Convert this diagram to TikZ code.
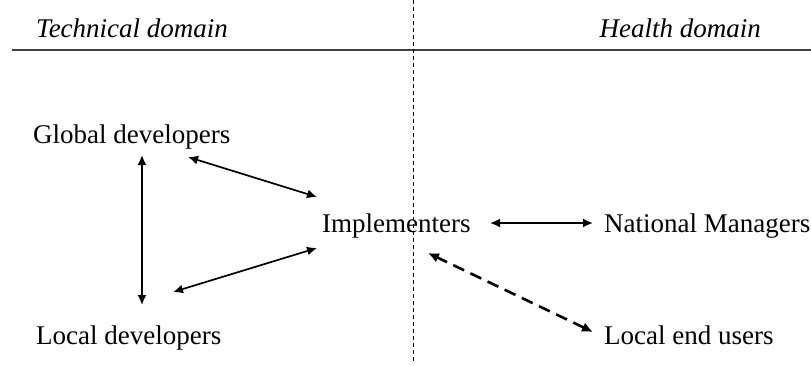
\documentclass[tikz,border=0pt]{standalone}
\usepackage{fontspec}
\setmainfont{Liberation Serif}
\usetikzlibrary{arrows.meta,calc}
\begin{document}
\begin{tikzpicture}[x=1pt,y=-1pt,
  lbl/.style={anchor=base west,inner sep=0pt,font=\fontsize{27}{32}\selectfont},
  head/.style={inner sep=0pt,font=\fontsize{27}{32}\selectfont\itshape},
  arr/.style={line width=1.7pt,{Latex[length=10pt,width=9pt]}-{Latex[length=10pt,width=9pt]}},
  dasharr/.style={line width=2.6pt,dash pattern=on 12pt off 7pt,{Latex[length=11pt,width=10pt]}-{Latex[length=11pt,width=10pt]}}]
\useasboundingbox (0,0) rectangle (811,365);
% domain headings and divider lines
\node[head,anchor=base west] (td) at (36,37) {Technical domain};
\node[head,anchor=base east] (hd) at (761,37) {Health domain};
\draw[line width=1.3pt,black!75] (12,50) -- (811,50);
\draw[line width=0.6pt,dash pattern=on 4pt off 3pt] (413,0) -- (413,362);
% actors
\node[lbl] (gd) at (33,143) {Global developers};
\node[lbl] (ld) at (36,344) {Local developers};
\node[lbl] (imp) at (322,232) {Implementers};
\node[lbl] (nm) at (604,232) {National Managers};
\node[lbl] (leu) at (604,344) {Local end users};
% relations
\draw[arr] ($(gd.base west)+(109,12)$) -- ($(ld.base west)+(106,-39)$);
\draw[arr] ($(gd.base west)+(155,14)$) -- ($(imp.base west)+(-5,-35)$);
\draw[arr] ($(ld.base west)+(137,-52)$) -- ($(imp.base west)+(-5,16)$);
\draw[arr] ($(imp.base west)+(168,-9)$) -- ($(nm.base west)+(-11,-9)$);
\draw[dasharr] ($(leu.base west)+(-11,-12)$) -- ($(imp.base west)+(106,21)$);
\end{tikzpicture}
\end{document}
